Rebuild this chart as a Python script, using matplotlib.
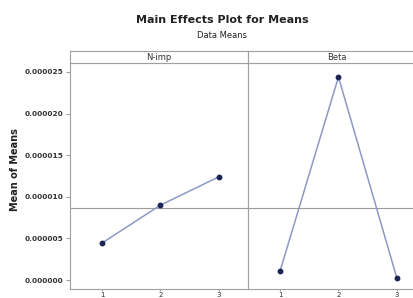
import numpy as np
import matplotlib
matplotlib.use("Agg")
import matplotlib.pyplot as plt

# data
factors = ["N-imp", "Beta"]
levels = ["1", "2", "3"]
nimp_means = [4.45e-6, 9.0e-6, 12.4e-6]
beta_means = [1.1e-6, 24.4e-6, 0.25e-6]
y_ticks = [0.0, 5e-6, 10e-6, 15e-6, 20e-6, 25e-6]
y_ticklabels = ["0.000000", "0.000005", "0.000010", "0.000015", "0.000020", "0.000025"]

W, H = 414, 298
fig = plt.figure(figsize=(W / 100, H / 100), dpi=100)

def fx(px):
    return px / W

def fy(py):
    return 1 - py / H

grand_mean = np.mean(nimp_means + beta_means)
line_col = "#8c99c4"
mark_col = "#1c2455"
frame_col = "#a0a0a0"

panel_l, panel_mid, panel_r = 70, 248, 426
panel_top, panel_bot = 63, 289
strip_top = 51

series = [nimp_means, beta_means]
edges = [(panel_l, panel_mid), (panel_mid, panel_r)]
strip_centres = [159, 337]
for i, (name, vals) in enumerate(zip(factors, series)):
    x0, x1 = edges[i]
    ax = fig.add_axes([fx(x0), fy(panel_bot), fx(x1) - fx(x0), fy(panel_top) - fy(panel_bot)])
    xs = np.arange(1, len(vals) + 1)
    ax.axhline(grand_mean, color="#9a9a9a", lw=0.8, zorder=1)
    ax.plot(xs, vals, color=line_col, lw=1.1, zorder=2)
    ax.plot(xs, vals, "o", color=mark_col, ms=3.2, zorder=3)
    ax.set_xlim(0.45, 3.5)
    ax.set_ylim(-1.08e-6, 26.08e-6)
    ax.set_xticks(xs)
    ax.set_xticklabels(levels, fontsize=5, color="#333333")
    ax.tick_params(axis="x", length=1.5, color=frame_col, pad=0.5)
    if i == 0:
        ax.set_yticks(y_ticks)
        ax.set_yticklabels(y_ticklabels, fontsize=5.3, fontweight="bold", color="#333333")
        ax.tick_params(axis="y", length=3, color=frame_col, pad=2)
    else:
        ax.set_yticks([])
    for s in ax.spines.values():
        s.set_color(frame_col)
        s.set_linewidth(0.8)

    # strip with the factor name
    sax = fig.add_axes([fx(x0), fy(panel_top), fx(x1) - fx(x0), fy(strip_top) - fy(panel_top)])
    sax.set_xticks([])
    sax.set_yticks([])
    for s in sax.spines.values():
        s.set_color(frame_col)
        s.set_linewidth(0.8)
    sax.text((strip_centres[i] - x0) / (x1 - x0), 0.5, name, ha="center", va="center",
             fontsize=6, color="#333333", transform=sax.transAxes)

fig.text(fx(15), fy(170), "Mean of Means", rotation=90, ha="center", va="center",
         fontsize=7, fontweight="bold", color="#222222")
fig.text(fx(222), fy(20), "Main Effects Plot for Means", ha="center", va="center",
         fontsize=8, fontweight="bold", color="#222222")
fig.text(fx(222), fy(36), "Data Means", ha="center", va="center",
         fontsize=6, color="#222222")

fig.savefig("out.png", dpi=100)
